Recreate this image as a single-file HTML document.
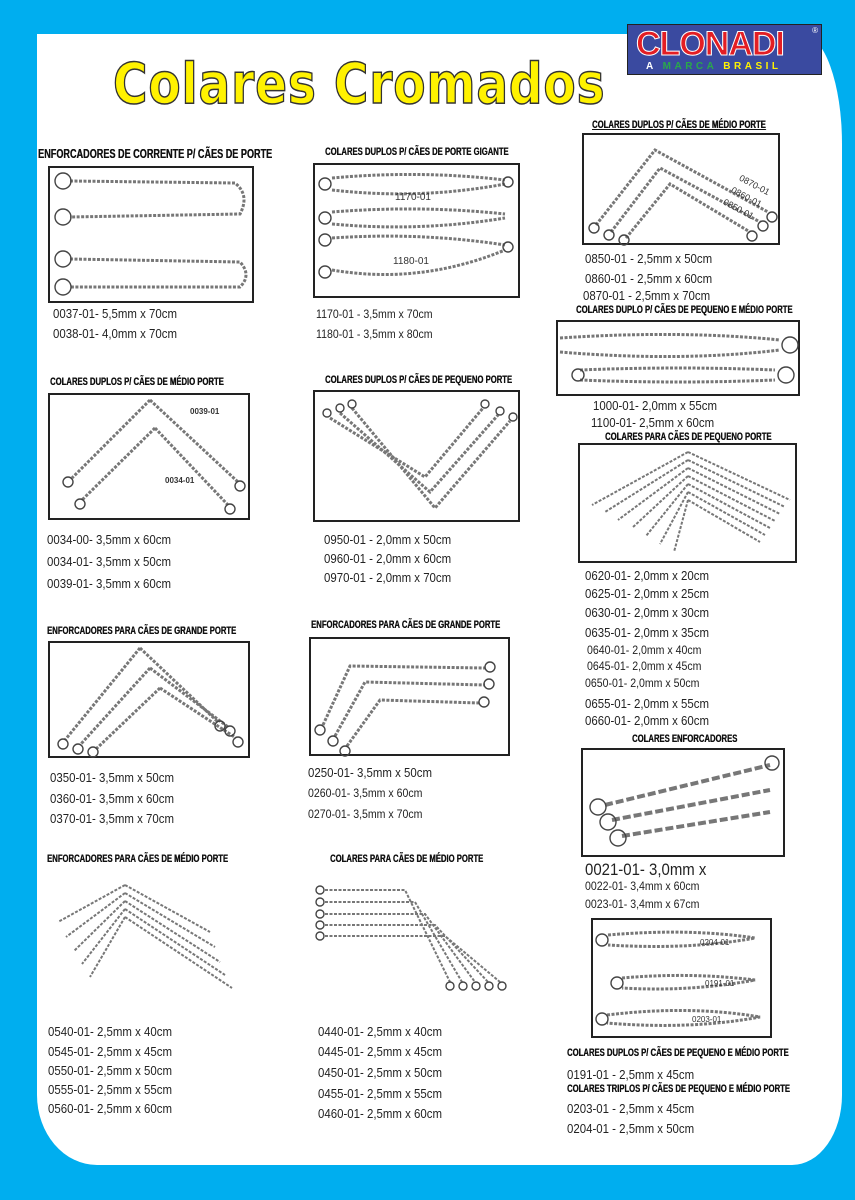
<!DOCTYPE html>
<html><head><meta charset="utf-8">
<style>
*{margin:0;padding:0;box-sizing:border-box}
body{width:855px;height:1200px;background:#00aeef;position:relative;overflow:hidden;font-family:"Liberation Sans",sans-serif}
#panel{position:absolute;left:37px;top:34px;width:805px;height:1131px;background:#fff;border-radius:0 40px 50px 60px / 0 110px 70px 70px}
.hd{position:absolute;font-weight:bold;font-size:11px;color:#111;transform:scaleX(0.7);transform-origin:left center;white-space:nowrap;text-shadow:0.4px 0 0 #111}
.box{position:absolute;border:2px solid #222;background:#fff}
.t{position:absolute;font-size:13px;color:#222;white-space:nowrap;transform:scaleX(0.88);transform-origin:left center}
.lb{position:absolute;font-size:9px;color:#333;white-space:nowrap}
#ov{position:absolute;left:0;top:0}
.ch{fill:none;stroke:#777;stroke-width:3;stroke-dasharray:3 1.5}
.rg{fill:none;stroke:#444;stroke-width:1.4}
#logo{position:absolute;left:627px;top:24px;width:195px;height:51px;background:#3a4aa0;border:1px solid #222}
#title{position:absolute;left:113px;top:52px;font-size:56px;font-weight:bold;color:#fff200;-webkit-text-stroke:1.5px #333;letter-spacing:1px;white-space:nowrap;font-family:"DejaVu Sans","Liberation Sans",sans-serif;transform:scaleX(0.84);transform-origin:left top}
</style></head><body>
<div id="panel"></div>
<div id="logo">
 <div style="position:absolute;left:8px;top:0;font-size:34px;font-weight:bold;color:#e31e24;-webkit-text-stroke:1px #fff;letter-spacing:-1px">CLONADI</div>
 <div style="position:absolute;right:3px;top:1px;font-size:8px;color:#fff">®</div>
 <div style="position:absolute;left:18px;top:36px;font-size:10px;font-weight:bold;color:#fff;letter-spacing:3.5px">A <span style="color:#2aa84a">MARCA</span> <span style="color:#fff200">BRASIL</span></div>
</div>
<div id="title">Colares Cromados</div>

<div class="box" style="left:48px;top:166px;width:206px;height:137px"></div>
<div class="box" style="left:313px;top:163px;width:207px;height:135px"></div>
<div class="box" style="left:582px;top:133px;width:198px;height:112px"></div>
<div class="box" style="left:556px;top:320px;width:244px;height:76px"></div>
<div class="box" style="left:48px;top:393px;width:202px;height:127px"></div>
<div class="box" style="left:313px;top:390px;width:207px;height:132px"></div>
<div class="box" style="left:578px;top:443px;width:219px;height:120px"></div>
<div class="box" style="left:48px;top:641px;width:202px;height:117px"></div>
<div class="box" style="left:309px;top:637px;width:201px;height:119px"></div>
<div class="box" style="left:581px;top:748px;width:204px;height:109px"></div>
<div class="box" style="left:47px;top:875px;width:203px;height:135px;border-color:#fff"></div>
<div class="box" style="left:305px;top:872px;width:205px;height:143px;border-color:#fff"></div>
<div class="box" style="left:591px;top:918px;width:181px;height:120px"></div>

<svg id="ov" width="855" height="1200">
<g>
<path class="ch" d="M70,181 L235,183 Q250,195 240,214 L70,217"/><circle class="rg" cx="63" cy="181" r="8"/><circle class="rg" cx="63" cy="217" r="8"/>
<path class="ch" d="M70,259 L240,262 Q252,275 240,287 L70,287"/><circle class="rg" cx="63" cy="259" r="8"/><circle class="rg" cx="63" cy="287" r="8"/>
<path class="ch" d="M332,178 Q420,170 505,180 M332,190 Q420,200 505,184"/><circle class="rg" cx="325" cy="184" r="6"/><circle class="rg" cx="508" cy="182" r="5"/>
<path class="ch" d="M332,212 Q420,205 505,214 M332,224 Q420,232 505,218"/><circle class="rg" cx="325" cy="218" r="6"/>
<path class="ch" d="M332,238 Q420,232 505,245 M332,270 Q420,285 505,250"/><circle class="rg" cx="325" cy="240" r="6"/><circle class="rg" cx="325" cy="272" r="6"/><circle class="rg" cx="508" cy="247" r="5"/>
<path class="ch" d="M596,225 L655,150 L768,212 M611,232 L660,168 L760,222 M626,238 L670,184 L750,232"/><circle class="rg" cx="594" cy="228" r="5"/><circle class="rg" cx="609" cy="235" r="5"/><circle class="rg" cx="624" cy="240" r="5"/><circle class="rg" cx="772" cy="217" r="5"/><circle class="rg" cx="763" cy="226" r="5"/><circle class="rg" cx="752" cy="236" r="5"/>
<path class="ch" d="M560,338 Q680,330 780,340 M560,352 Q680,362 780,350"/><circle class="rg" cx="790" cy="345" r="8"/>
<path class="ch" d="M580,370 Q680,366 775,370 M580,380 Q680,384 775,380"/><circle class="rg" cx="578" cy="375" r="6"/><circle class="rg" cx="786" cy="375" r="8"/>
<path class="ch" d="M150,400 L72,478 M150,400 L238,482 M155,428 L82,500 M155,428 L228,505"/><circle class="rg" cx="68" cy="482" r="5"/><circle class="rg" cx="240" cy="486" r="5"/><circle class="rg" cx="80" cy="504" r="5"/><circle class="rg" cx="230" cy="509" r="5"/>
<path class="ch" d="M330,418 L425,477 L483,408 M340,413 L430,492 L498,415 M352,408 L435,508 L510,421"/><circle class="rg" cx="327" cy="413" r="4"/><circle class="rg" cx="340" cy="408" r="4"/><circle class="rg" cx="352" cy="404" r="4"/><circle class="rg" cx="485" cy="404" r="4"/><circle class="rg" cx="500" cy="411" r="4"/><circle class="rg" cx="513" cy="417" r="4"/>
<path class="ch" style="stroke-width:2" d="M688,452 L592,505 M688,452 L790,500 M688,460 L605,512 M688,460 L785,507 M688,468 L618,520 M688,468 L780,514 M688,476 L632,528 M688,476 L775,521 M688,484 L646,536 M688,484 L770,528 M688,492 L660,544 M688,492 L765,535 M688,500 L674,552 M688,500 L760,542"/>
<path class="ch" d="M140,648 L65,740 M140,648 L218,722 M150,668 L80,745 M150,668 L228,727 M160,688 L95,750 M160,688 L236,738"/><circle class="rg" cx="63" cy="744" r="5"/><circle class="rg" cx="78" cy="749" r="5"/><circle class="rg" cx="93" cy="752" r="5"/><circle class="rg" cx="220" cy="726" r="5"/><circle class="rg" cx="230" cy="731" r="5"/><circle class="rg" cx="238" cy="742" r="5"/>
<path class="ch" d="M323,725 L350,666 L485,668 M335,736 L365,682 L485,685 M347,746 L380,700 L480,703"/><circle class="rg" cx="320" cy="730" r="5"/><circle class="rg" cx="333" cy="741" r="5"/><circle class="rg" cx="345" cy="751" r="5"/><circle class="rg" cx="490" cy="667" r="5"/><circle class="rg" cx="489" cy="684" r="5"/><circle class="rg" cx="484" cy="702" r="5"/>
<path class="ch" style="stroke-width:4;stroke-dasharray:8 3" d="M605,805 L770,765 M612,820 L770,790 M622,836 L770,812"/><circle class="rg" cx="598" cy="807" r="8"/><circle class="rg" cx="608" cy="822" r="8"/><circle class="rg" cx="618" cy="838" r="8"/><circle class="rg" cx="772" cy="763" r="7"/>
<path class="ch" style="stroke-width:2" d="M125,885 L58,922 M125,885 L210,932 M125,893 L66,937 M125,893 L215,947 M125,901 L74,951 M125,901 L220,962 M125,909 L82,964 M125,909 L225,975 M125,917 L90,977 M125,917 L232,988"/>
<path class="ch" style="stroke-width:2" d="M325,890 L405,890 L450,982 M325,902 L415,902 L462,982 M325,914 L425,914 L475,982 M325,925 L435,925 L488,982 M325,936 L445,936 L500,982"/><circle class="rg" cx="320" cy="890" r="4"/><circle class="rg" cx="320" cy="902" r="4"/><circle class="rg" cx="320" cy="914" r="4"/><circle class="rg" cx="320" cy="925" r="4"/><circle class="rg" cx="320" cy="936" r="4"/><circle class="rg" cx="450" cy="986" r="4"/><circle class="rg" cx="463" cy="986" r="4"/><circle class="rg" cx="476" cy="986" r="4"/><circle class="rg" cx="489" cy="986" r="4"/><circle class="rg" cx="502" cy="986" r="4"/>
<path class="ch" d="M608,935 Q690,928 755,938 Q690,950 608,945"/><circle class="rg" cx="602" cy="940" r="6"/>
<path class="ch" d="M622,978 Q690,972 755,980 Q690,992 622,988"/><circle class="rg" cx="617" cy="983" r="6"/>
<path class="ch" d="M607,1015 Q690,1005 760,1017 Q690,1030 607,1023"/><circle class="rg" cx="602" cy="1019" r="6"/>
</g>
</svg>

<div class="lb" style="left:395px;top:192px;font-size:10px">1170-01</div>
<div class="lb" style="left:393px;top:256px;font-size:10px">1180-01</div>
<div class="lb" style="left:190px;top:407px;font-weight:bold;font-size:8px">0039-01</div>
<div class="lb" style="left:165px;top:476px;font-weight:bold;font-size:8px">0034-01</div>
<div class="lb" style="left:738px;top:180px;transform:rotate(28deg)">0870-01</div>
<div class="lb" style="left:730px;top:192px;transform:rotate(28deg)">0860-01</div>
<div class="lb" style="left:722px;top:204px;transform:rotate(28deg)">0850-01</div>
<div class="lb" style="left:700px;top:938px;font-size:8px">0204-01</div>
<div class="lb" style="left:705px;top:979px;font-size:8px">0191-01</div>
<div class="lb" style="left:692px;top:1015px;font-size:8px">0203-01</div>

<div class="hd" style="left:38px;top:146px;font-size:13px">ENFORCADORES DE CORRENTE P/ CÃES DE PORTE</div>
<div class="hd" style="left:325px;top:146px">COLARES DUPLOS P/ CÃES DE PORTE GIGANTE</div>
<div class="hd" style="left:592px;top:119px;text-decoration:underline">COLARES DUPLOS P/ CÃES DE MÉDIO PORTE</div>
<div class="hd" style="left:576px;top:304px">COLARES DUPLO P/ CÃES DE PEQUENO E MÉDIO PORTE</div>
<div class="hd" style="left:50px;top:376px">COLARES DUPLOS P/ CÃES DE MÉDIO PORTE</div>
<div class="hd" style="left:325px;top:374px">COLARES DUPLOS P/ CÃES DE PEQUENO PORTE</div>
<div class="hd" style="left:605px;top:431px">COLARES PARA CÃES DE PEQUENO PORTE</div>
<div class="hd" style="left:47px;top:625px">ENFORCADORES PARA CÃES DE GRANDE PORTE</div>
<div class="hd" style="left:311px;top:619px">ENFORCADORES PARA CÃES DE GRANDE PORTE</div>
<div class="hd" style="left:632px;top:733px">COLARES ENFORCADORES</div>
<div class="hd" style="left:47px;top:853px">ENFORCADORES PARA CÃES DE MÉDIO PORTE</div>
<div class="hd" style="left:330px;top:853px">COLARES PARA CÃES DE MÉDIO PORTE</div>
<div class="hd" style="left:567px;top:1047px">COLARES DUPLOS P/ CÃES DE PEQUENO E MÉDIO PORTE</div>
<div class="hd" style="left:567px;top:1083px">COLARES TRIPLOS P/ CÃES DE PEQUENO E MÉDIO PORTE</div>

<div class="t" style="left:53px;top:306px">0037-01- 5,5mm x 70cm</div>
<div class="t" style="left:53px;top:326px">0038-01- 4,0mm x 70cm</div>
<div class="t" style="left:316px;top:307px;font-size:12px">1170-01 -  3,5mm x 70cm</div>
<div class="t" style="left:316px;top:327px;font-size:12px">1180-01 -  3,5mm x 80cm</div>
<div class="t" style="left:585px;top:251px">0850-01 - 2,5mm x 50cm</div>
<div class="t" style="left:585px;top:271px">0860-01 - 2,5mm x 60cm</div>
<div class="t" style="left:583px;top:288px">0870-01 -  2,5mm x 70cm</div>
<div class="t" style="left:593px;top:398px">1000-01- 2,0mm x 55cm</div>
<div class="t" style="left:591px;top:415px">1100-01- 2,5mm x 60cm</div>
<div class="t" style="left:47px;top:532px">0034-00- 3,5mm x 60cm</div>
<div class="t" style="left:47px;top:554px">0034-01-  3,5mm x 50cm</div>
<div class="t" style="left:47px;top:576px">0039-01-  3,5mm x 60cm</div>
<div class="t" style="left:324px;top:532px">0950-01 - 2,0mm x 50cm</div>
<div class="t" style="left:324px;top:551px">0960-01 - 2,0mm x 60cm</div>
<div class="t" style="left:324px;top:570px">0970-01 -  2,0mm x 70cm</div>
<div class="t" style="left:585px;top:568px">0620-01- 2,0mm x 20cm</div>
<div class="t" style="left:585px;top:586px">0625-01- 2,0mm x 25cm</div>
<div class="t" style="left:585px;top:605px">0630-01- 2,0mm x 30cm</div>
<div class="t" style="left:585px;top:625px">0635-01- 2,0mm x 35cm</div>
<div class="t" style="left:587px;top:643px;font-size:12px">0640-01- 2,0mm x 40cm</div>
<div class="t" style="left:587px;top:659px;font-size:12px">0645-01- 2,0mm x 45cm</div>
<div class="t" style="left:585px;top:676px;font-size:12px">0650-01- 2,0mm x 50cm</div>
<div class="t" style="left:585px;top:696px">0655-01- 2,0mm x 55cm</div>
<div class="t" style="left:585px;top:713px">0660-01- 2,0mm x 60cm</div>
<div class="t" style="left:50px;top:770px">0350-01- 3,5mm x 50cm</div>
<div class="t" style="left:50px;top:791px">0360-01- 3,5mm x 60cm</div>
<div class="t" style="left:50px;top:811px">0370-01-  3,5mm x 70cm</div>
<div class="t" style="left:308px;top:765px">0250-01- 3,5mm x 50cm</div>
<div class="t" style="left:308px;top:786px;font-size:12px">0260-01- 3,5mm x 60cm</div>
<div class="t" style="left:308px;top:807px;font-size:12px">0270-01-  3,5mm x 70cm</div>
<div class="t" style="left:585px;top:860px;font-size:17px">0021-01- 3,0mm x</div>
<div class="t" style="left:585px;top:879px;font-size:12px">0022-01- 3,4mm x 60cm</div>
<div class="t" style="left:585px;top:897px;font-size:12px">0023-01- 3,4mm x 67cm</div>
<div class="t" style="left:48px;top:1024px">0540-01- 2,5mm x 40cm</div>
<div class="t" style="left:48px;top:1044px">0545-01- 2,5mm x 45cm</div>
<div class="t" style="left:48px;top:1063px">0550-01- 2,5mm x 50cm</div>
<div class="t" style="left:48px;top:1082px">0555-01- 2,5mm x 55cm</div>
<div class="t" style="left:48px;top:1101px">0560-01- 2,5mm x 60cm</div>
<div class="t" style="left:318px;top:1024px">0440-01- 2,5mm x 40cm</div>
<div class="t" style="left:318px;top:1044px">0445-01-  2,5mm x 45cm</div>
<div class="t" style="left:318px;top:1065px">0450-01-  2,5mm x 50cm</div>
<div class="t" style="left:318px;top:1086px">0455-01-  2,5mm x 55cm</div>
<div class="t" style="left:318px;top:1106px">0460-01-  2,5mm x 60cm</div>
<div class="t" style="left:567px;top:1067px">0191-01 -  2,5mm x 45cm</div>
<div class="t" style="left:567px;top:1101px">0203-01 -  2,5mm x 45cm</div>
<div class="t" style="left:567px;top:1121px">0204-01 -  2,5mm x 50cm</div>
</body></html>
